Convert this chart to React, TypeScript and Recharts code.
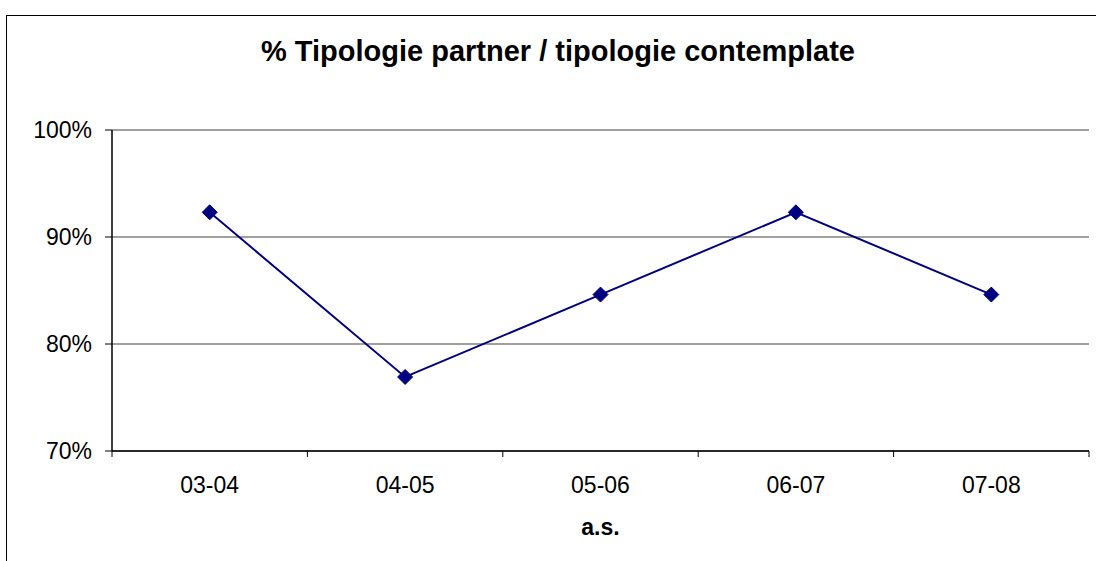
import React from 'react';
import {
  LineChart,
  Line,
  XAxis,
  YAxis,
  CartesianGrid,
  Label,
} from 'recharts';

// school years (a.s.) and share of partner types over contemplated types
const seasons = ['03-04', '04-05', '05-06', '06-07', '07-08'];
const shares = [92.31, 76.92, 84.62, 92.31, 84.62];
const yTicks = [70, 80, 90, 100];

const data = seasons.map((season, i) => ({ season, share: shares[i] }));

const FONT = "Arial, 'Liberation Sans', sans-serif";
const X_TICK = 6;
const X_MARGIN = 20;

const Diamond = (props: any) => {
  const { cx, cy } = props;
  if (cx == null || cy == null) return null;
  const r = 7.5;
  return (
    <polygon
      points={`${cx},${cy - r} ${cx + r},${cy} ${cx},${cy + r} ${cx - r},${cy}`}
      fill="#000080"
      stroke="#000080"
    />
  );
};

// Excel puts the tick marks between categories, labels in the middle
const SeasonTick = (props: any) => {
  const { x, y, payload, index, visibleTicksCount, width } = props;
  const half = payload.offset || width / visibleTicksCount / 2;
  const axisY = y - X_TICK - X_MARGIN;
  const last = index === visibleTicksCount - 1;
  return (
    <g>
      <line x1={x - half} x2={x - half} y1={axisY} y2={axisY + X_TICK} stroke="#000" />
      {last && <line x1={x + half} x2={x + half} y1={axisY} y2={axisY + X_TICK} stroke="#000" />}
      <text x={x} y={y} dy="0.71em" textAnchor="middle" fill="#000" fontSize={23} fontFamily={FONT}>
        {payload.value}
      </text>
    </g>
  );
};

export default function App() {
  return (
    <div style={{ position: 'absolute', left: 0, top: 0, width: 1096, height: 561, background: '#fff', overflow: 'hidden' }}>
      {/* outer chart frame */}
      <div
        style={{
          position: 'absolute',
          left: 6,
          top: 15,
          width: 1200,
          height: 700,
          border: '1.5px solid #000',
        }}
      />
      <div
        style={{
          position: 'absolute',
          left: 258,
          top: 37,
          width: 600,
          textAlign: 'center',
          fontFamily: FONT,
          fontWeight: 'bold',
          fontSize: 29,
          lineHeight: '29px',
          color: '#000',
        }}
      >
        % Tipologie partner / tipologie contemplate
      </div>
      <div style={{ position: 'absolute', left: 0, top: 0 }}>
        <LineChart
          width={1096}
          height={561}
          data={data}
          margin={{ top: 130, right: 7, bottom: 0, left: 0 }}
        >
          <CartesianGrid vertical={false} stroke="#808080" strokeWidth={1.5} />
          <XAxis
            dataKey="season"
            scale="band"
            height={110}
            interval={0}
            axisLine={{ stroke: '#000', strokeWidth: 1.5 }}
            tickLine={false}
            tickSize={X_TICK}
            tickMargin={X_MARGIN}
            tick={<SeasonTick />}
          >
            <Label
              value="a.s."
              position="insideBottom"
              offset={26}
              style={{ fill: '#000', fontSize: 23, fontWeight: 'bold', fontFamily: FONT }}
            />
          </XAxis>
          <YAxis
            domain={[70, 100]}
            ticks={yTicks}
            width={112}
            axisLine={{ stroke: '#000', strokeWidth: 1.5 }}
            tickLine={{ stroke: '#000', strokeWidth: 1 }}
            tickSize={7}
            tickMargin={13}
            tickFormatter={(v: number) => `${v}%`}
            tick={{ fill: '#000', fontSize: 23, fontFamily: FONT }}
          />
          <YAxis
            yAxisId="right"
            orientation="right"
            width={0}
            tick={false}
            tickLine={false}
            axisLine={{ stroke: '#808080', strokeWidth: 2 }}
          />
          <Line
            type="linear"
            dataKey="share"
            stroke="#000080"
            strokeWidth={2}
            dot={<Diamond />}
            activeDot={false}
            isAnimationActive={false}
          />
        </LineChart>
      </div>
    </div>
  );
}
